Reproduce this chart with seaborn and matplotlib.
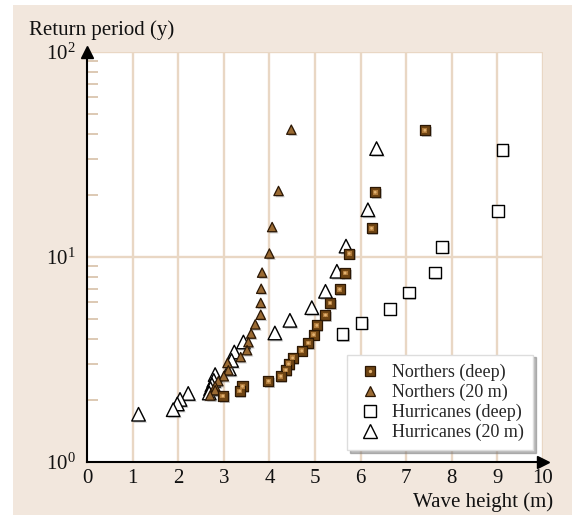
import matplotlib
matplotlib.use("Agg")
import matplotlib.pyplot as plt
import matplotlib.patheffects as pe
from matplotlib.patches import Rectangle
from matplotlib.lines import Line2D
from matplotlib.legend_handler import HandlerTuple
from matplotlib.ticker import LogLocator, FixedLocator, NullFormatter
import numpy as np
import pandas as pd
import seaborn as sns

# Northers, deep water
northers_deep_h = [7.41, 6.32, 6.24, 5.75, 5.66, 5.54, 5.33, 5.23, 5.04, 4.97,
                   4.85, 4.71, 4.51, 4.42, 4.36, 4.25, 3.98, 3.41, 3.35, 2.98]
northers_deep_T = [41.5, 20.7, 13.8, 10.4, 8.36, 6.95, 5.97, 5.21, 4.64, 4.18,
                   3.81, 3.49, 3.22, 3.01, 2.81, 2.62, 2.48, 2.34, 2.22, 2.10]

# Northers, 20 m depth
northers_20_h = [4.48, 4.20, 4.06, 4.00, 3.84, 3.82, 3.81, 3.81, 3.69, 3.60,
                 3.54, 3.51, 3.37, 3.08, 3.10, 3.00, 2.88, 2.81, 2.81, 2.70]
northers_20_T = [41.8, 21.0, 14.0, 10.4, 8.39, 7.00, 5.97, 5.23, 4.69, 4.23,
                 3.84, 3.51, 3.25, 3.04, 2.80, 2.62, 2.48, 2.34, 2.24, 2.11]

# Hurricanes, deep water
hurricanes_deep_h = [9.11, 9.01, 7.79, 7.63, 7.06, 6.64, 6.02, 5.60]
hurricanes_deep_T = [33.3, 16.8, 11.2, 8.39, 6.70, 5.58, 4.77, 4.20]

# Hurricanes, 20 m depth
hurricanes_20_h = [6.35, 6.16, 5.68, 5.48, 5.23, 4.93, 4.45, 4.12, 3.43, 3.23,
                   3.17, 3.12, 2.81, 2.78, 2.74, 2.71, 2.68, 2.22, 2.04, 1.98,
                   1.89, 1.13]
hurricanes_20_T = [33.8, 17.0, 11.3, 8.52, 6.80, 5.66, 4.91, 4.26, 3.85, 3.44,
                   3.13, 2.85, 2.67, 2.50, 2.38, 2.28, 2.17, 2.16, 2.02, 1.92,
                   1.80, 1.71]

x_ticks = [0, 1, 2, 3, 4, 5, 6, 7, 8, 9, 10]
y_ticks = [1, 10, 100]
y_tick_labels = [r"$\mathregular{10^{0}}$", r"$\mathregular{10^{1}}$", r"$\mathregular{10^{2}}$"]

BEIGE = "#f2e7dd"
GRID = "#e9d7c4"
TICK = "#ddc9b3"
BROWN_EDGE = "#2b1704"
BROWN_FACE = "#6e4413"
BROWN_CORE = "#e2b373"
TRI_FACE = "#9a6a33"

sns.set_theme(style="white")
plt.rcParams["font.family"] = ["Liberation Serif", "DejaVu Serif"]
plt.rcParams["mathtext.fontset"] = "custom"
plt.rcParams["mathtext.rm"] = "Liberation Serif"
plt.rcParams["ytick.color"] = TICK
plt.rcParams["ytick.labelcolor"] = "#111111"
plt.rcParams["xtick.labelcolor"] = "#111111"

fig = plt.figure(figsize=(5.72, 5.15), dpi=100)
fig.patch.set_facecolor("white")
fig.patches.append(Rectangle((13 / 572, 0), 1 - 13 / 572, 1 - 5 / 515,
                             transform=fig.transFigure, facecolor=BEIGE,
                             edgecolor="none", zorder=-10))

ax = fig.add_axes([87 / 572, 53 / 515, 456 / 572, 410 / 515])
ax.set_facecolor("white")
ax.set_yscale("log")
ax.set_xlim(0, 10)
ax.set_ylim(1, 100)

# grid lines
for xv in x_ticks[1:]:
    ax.axvline(xv, color=GRID, lw=1.7, zorder=0)
for yv in y_ticks[1:]:
    ax.axhline(yv, color=GRID, lw=1.7, zorder=0)

shadow = [pe.SimplePatchShadow(offset=(1.2, -1.2), shadow_rgbFace="#808080", alpha=0.45), pe.Normal()]

df_nd = pd.DataFrame({"h": northers_deep_h, "T": northers_deep_T})
df_n20 = pd.DataFrame({"h": northers_20_h, "T": northers_20_T})
df_hd = pd.DataFrame({"h": hurricanes_deep_h, "T": hurricanes_deep_T})
df_h20 = pd.DataFrame({"h": hurricanes_20_h, "T": hurricanes_20_T})

sns.scatterplot(data=df_h20, x="h", y="T", marker="^", s=95, facecolor="white",
                edgecolor="black", linewidth=1.0, ax=ax, zorder=3, legend=False)
sns.scatterplot(data=df_hd, x="h", y="T", marker="s", s=70, facecolor="white",
                edgecolor="black", linewidth=1.0, ax=ax, zorder=3, legend=False)
sns.scatterplot(data=df_n20, x="h", y="T", marker="^", s=45, facecolor=TRI_FACE,
                edgecolor=BROWN_EDGE, linewidth=0.9, ax=ax, zorder=4, legend=False)
sns.scatterplot(data=df_nd, x="h", y="T", marker="s", s=52, facecolor=BROWN_FACE,
                edgecolor=BROWN_EDGE, linewidth=0.9, ax=ax, zorder=5, legend=False)
sns.scatterplot(data=df_nd, x="h", y="T", marker="s", s=12, facecolor="#b07a3a",
                edgecolor="none", linewidth=0, ax=ax, zorder=6, legend=False)
sns.scatterplot(data=df_nd, x="h", y="T", marker="o", s=4, facecolor=BROWN_CORE,
                edgecolor="none", linewidth=0, ax=ax, zorder=7, legend=False)

for coll in ax.collections[:4]:
    coll.set_path_effects(shadow)

# axes: left and bottom with arrow heads
for side in ["top", "right"]:
    ax.spines[side].set_visible(False)
for side in ["left", "bottom"]:
    ax.spines[side].set_color("black")
    ax.spines[side].set_linewidth(1.5)
    ax.spines[side].set_zorder(8)
ax.plot([0], [1.0], marker="^", color="black", ms=8, transform=ax.transAxes,
        clip_on=False, zorder=10)
ax.plot([1.0], [0], marker=">", color="black", ms=8, transform=ax.transAxes,
        clip_on=False, zorder=10)

ax.xaxis.set_major_locator(FixedLocator(x_ticks))
ax.set_xticklabels([str(v) for v in x_ticks])
ax.yaxis.set_major_locator(FixedLocator(y_ticks))
ax.set_yticklabels(y_tick_labels)
ax.yaxis.set_minor_locator(LogLocator(base=10, subs=np.arange(2, 10)))
ax.yaxis.set_minor_formatter(NullFormatter())
ax.tick_params(axis="x", which="major", length=0, labelsize=15, pad=5,
               labelcolor="#111111")
ax.tick_params(axis="y", which="major", length=0, labelsize=15, pad=8,
               labelcolor="#111111")
ax.tick_params(axis="y", which="minor", direction="in", length=8, width=1.4,
               color=TICK, left=True, right=False)
ax.tick_params(axis="x", which="minor", length=0)

ax.set_xlabel("")
ax.set_ylabel("")
fig.text(553 / 572, 1 - 502 / 515, "Wave height (m)", ha="right", va="center",
         fontsize=15, color="#111111")
fig.text(29 / 572, 1 - 30 / 515, "Return period (y)", ha="left", va="center",
         fontsize=15, color="#111111")

# legend
h_nd = (Line2D([], [], ls="none", marker="s", ms=6.5, mfc=BROWN_FACE, mec=BROWN_EDGE, mew=0.9),
        Line2D([], [], ls="none", marker="o", ms=2.4, mfc=BROWN_CORE, mec="none"))
h_n20 = Line2D([], [], ls="none", marker="^", ms=7, mfc=TRI_FACE, mec=BROWN_EDGE, mew=0.9)
h_hd = Line2D([], [], ls="none", marker="s", ms=8.5, mfc="white", mec="black", mew=1.0)
h_h20 = Line2D([], [], ls="none", marker="^", ms=9.5, mfc="white", mec="black", mew=1.0)
leg = ax.legend([h_nd, h_n20, h_hd, h_h20],
                ["Northers (deep)", "Northers (20 m)", "Hurricanes (deep)", "Hurricanes (20 m)"],
                handler_map={tuple: HandlerTuple(ndivide=1, pad=0)},
                loc="lower right", bbox_to_anchor=(0.978, 0.029), fontsize=13,
                frameon=True, fancybox=False, shadow={"color": "#777777", "alpha": 0.5},
                facecolor="white", edgecolor="#dddddd", framealpha=1,
                handlelength=1.6, handletextpad=0.4, labelspacing=0.15,
                borderpad=0.5, borderaxespad=0)
leg.set_zorder(20)

fig.savefig("out.png", dpi=100, facecolor=fig.get_facecolor())
